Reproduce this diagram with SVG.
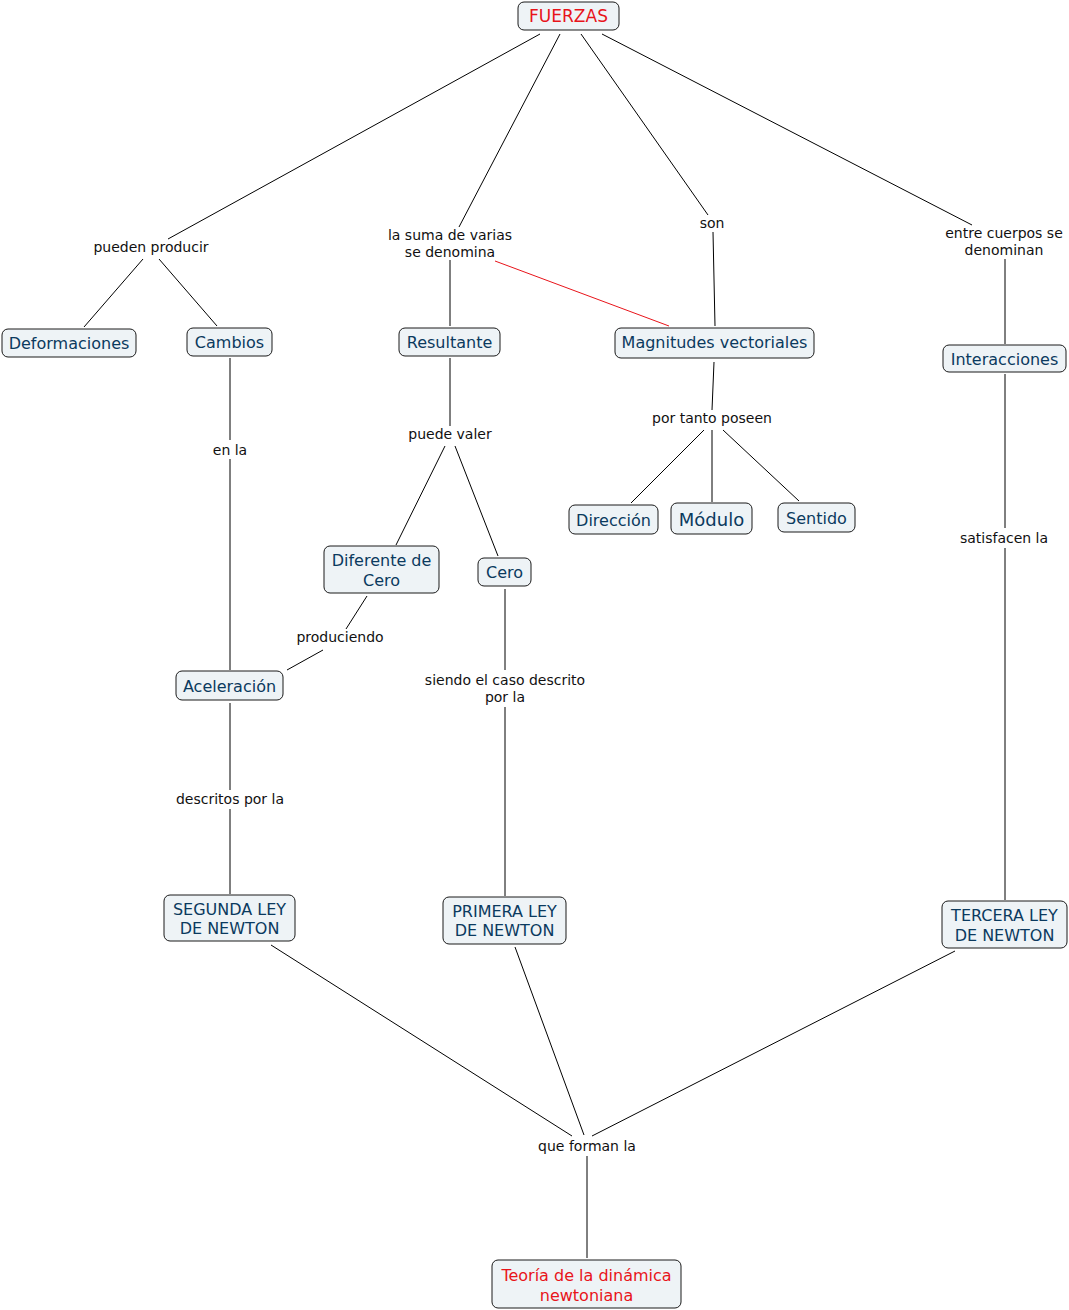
<svg xmlns="http://www.w3.org/2000/svg" width="1069" height="1310" viewBox="0 0 1069 1310">
<style>
.bg{fill:#ffffff}
.node rect{fill:#eef3f6;stroke:#1a1a1a;stroke-width:1}
.node text{font-family:"DejaVu Sans",Verdana,sans-serif;font-size:16px;fill:#0b3a5e;text-anchor:middle}
.node text.red{fill:#e8141a}
.lbl{font-family:"DejaVu Sans",Verdana,sans-serif;font-size:14px;fill:#111;text-anchor:middle}
.conn line{stroke:#000;stroke-width:1}
.conn line.red{stroke:#e8141a}
</style>
<rect class="bg" width="1069" height="1310"/>
<g id="connectors" class="conn">
<line x1="540" y1="34" x2="168" y2="239"/>
<line x1="143" y1="259" x2="84" y2="327"/>
<line x1="159" y1="259" x2="217" y2="326"/>
<line x1="560" y1="34" x2="459" y2="227"/>
<line x1="450" y1="260" x2="450" y2="326"/>
<line class="red" x1="495" y1="261" x2="669" y2="326"/>
<line x1="581" y1="34" x2="708" y2="215"/>
<line x1="713" y1="232" x2="715" y2="326"/>
<line x1="602" y1="34" x2="972" y2="225"/>
<line x1="1005" y1="259" x2="1005" y2="344"/>
<line x1="230" y1="358" x2="230" y2="440"/>
<line x1="230" y1="459" x2="230" y2="670"/>
<line x1="450" y1="358" x2="450" y2="426"/>
<line x1="445" y1="446" x2="396" y2="545"/>
<line x1="455" y1="446" x2="498" y2="556"/>
<line x1="714" y1="362" x2="712" y2="410"/>
<line x1="704" y1="430" x2="631" y2="503"/>
<line x1="712" y1="430" x2="712" y2="502"/>
<line x1="723" y1="430" x2="799" y2="501"/>
<line x1="1005" y1="374" x2="1005" y2="528"/>
<line x1="1005" y1="548" x2="1005" y2="900"/>
<line x1="367" y1="596" x2="346" y2="629"/>
<line x1="323" y1="650" x2="287" y2="670"/>
<line x1="505" y1="589" x2="505" y2="670"/>
<line x1="505" y1="707" x2="505" y2="896"/>
<line x1="230" y1="703" x2="230" y2="790"/>
<line x1="230" y1="809" x2="230" y2="894"/>
<line x1="271" y1="945" x2="572" y2="1136"/>
<line x1="515" y1="947" x2="584" y2="1135"/>
<line x1="955" y1="951" x2="592" y2="1136"/>
<line x1="587" y1="1156" x2="587" y2="1258"/>
</g>
<g id="labels">
<text class="lbl" x="151" y="252">pueden producir</text>
<text class="lbl" x="450" y="240">la suma de varias</text>
<text class="lbl" x="450" y="257">se denomina</text>
<text class="lbl" x="712" y="228">son</text>
<text class="lbl" x="1004" y="238">entre cuerpos se</text>
<text class="lbl" x="1004" y="255">denominan</text>
<text class="lbl" x="230" y="455">en la</text>
<text class="lbl" x="450" y="439">puede valer</text>
<text class="lbl" x="712" y="423">por tanto poseen</text>
<text class="lbl" x="1004" y="543">satisfacen la</text>
<text class="lbl" x="340" y="642">produciendo</text>
<text class="lbl" x="505" y="685">siendo el caso descrito</text>
<text class="lbl" x="505" y="702">por la</text>
<text class="lbl" x="230" y="804">descritos por la</text>
<text class="lbl" x="587" y="1151">que forman la</text>
</g>
<g id="n-fuerzas" class="node"><rect x="518" y="2" width="101" height="28" rx="6"/><text class="red" x="568.5" y="22" style="font-size:17px">FUERZAS</text></g>
<g id="n-deformaciones" class="node"><rect x="2" y="329" width="134" height="28" rx="6"/><text x="69" y="349">Deformaciones</text></g>
<g id="n-cambios" class="node"><rect x="187" y="328" width="85" height="28" rx="6"/><text x="229.5" y="348">Cambios</text></g>
<g id="n-resultante" class="node"><rect x="399" y="328" width="101" height="28" rx="6"/><text x="449.5" y="348">Resultante</text></g>
<g id="n-magnitudes" class="node"><rect x="615" y="328" width="199" height="30" rx="6"/><text x="714.5" y="348">Magnitudes vectoriales</text></g>
<g id="n-interacciones" class="node"><rect x="943" y="345" width="123" height="27" rx="6"/><text x="1004.5" y="365">Interacciones</text></g>
<g id="n-direccion" class="node"><rect x="569" y="505" width="89" height="29" rx="6"/><text x="613.5" y="526">Dirección</text></g>
<g id="n-modulo" class="node"><rect x="671" y="503" width="81" height="31" rx="6"/><text x="711.5" y="526" style="font-size:18px">Módulo</text></g>
<g id="n-sentido" class="node"><rect x="778" y="503" width="77" height="29" rx="6"/><text x="816.5" y="524">Sentido</text></g>
<g id="n-diferente" class="node"><rect x="324" y="546" width="115" height="47" rx="6"/><text x="381.5" y="566">Diferente de</text><text x="381.5" y="586">Cero</text></g>
<g id="n-cero" class="node"><rect x="478" y="558" width="53" height="28" rx="6"/><text x="504.5" y="578">Cero</text></g>
<g id="n-aceleracion" class="node"><rect x="176" y="671" width="107" height="29" rx="6"/><text x="229.5" y="692">Aceleración</text></g>
<g id="n-segunda" class="node"><rect x="164" y="895" width="131" height="46" rx="6"/><text x="229.5" y="915">SEGUNDA LEY</text><text x="229.5" y="934">DE NEWTON</text></g>
<g id="n-primera" class="node"><rect x="443" y="897" width="123" height="47" rx="6"/><text x="504.5" y="917">PRIMERA LEY</text><text x="504.5" y="936">DE NEWTON</text></g>
<g id="n-tercera" class="node"><rect x="942" y="901" width="125" height="47" rx="6"/><text x="1004.5" y="921">TERCERA LEY</text><text x="1004.5" y="941">DE NEWTON</text></g>
<g id="n-teoria" class="node"><rect x="492" y="1260" width="189" height="48" rx="6"/><text class="red" x="586.5" y="1281">Teoría de la dinámica</text><text class="red" x="586.5" y="1301">newtoniana</text></g>
</svg>
